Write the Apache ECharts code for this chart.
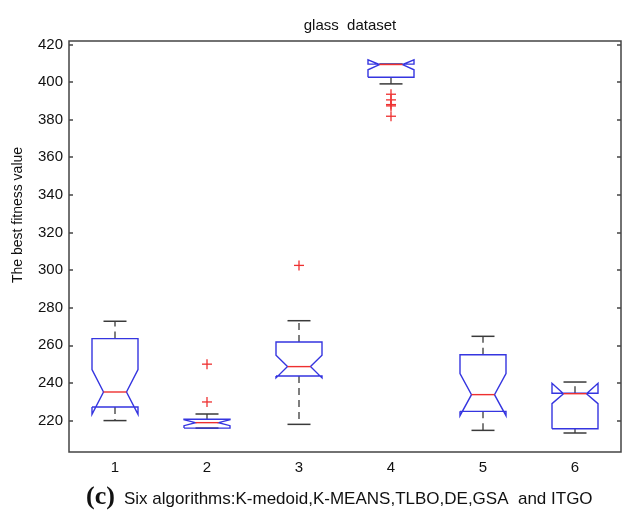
<!DOCTYPE html>
<html>
<head>
<meta charset="utf-8">
<script src="https://cdn.jsdelivr.net/npm/echarts@6/dist/echarts.min.js"></script>
<style>
html,body{margin:0;padding:0;background:#fff;}
#c{width:629px;height:519px;}
</style>
</head>
<body>
<div id="c"></div>
<script>
// ---- data ----
var categories = [1, 2, 3, 4, 5, 6];
var whiskerLow  = [220.0, 216.0, 218.0, 399.0, 214.8, 213.4];
var q1          = [227.2, 216.0, 243.7, 402.5, 224.9, 215.7];
var median      = [235.2, 218.9, 248.7, 409.3, 233.8, 234.3];
var q3          = [263.6, 220.7, 261.8, 409.5, 255.0, 234.5];
var whiskerHigh = [272.8, 223.5, 273.1, 409.5, 264.8, 240.5];
var notchLow    = [223.3, 217.3, 242.7, 406.5, 222.6, 229.0];
var notchHigh   = [247.1, 220.5, 254.7, 411.8, 245.0, 239.8];
var outlierCat  = [2, 2, 3, 4, 4, 4, 4, 4];
var outlierVal  = [250.0, 229.9, 302.5, 393.5, 390.5, 388.0, 387.3, 381.8];
var yTicks = [220, 240, 260, 280, 300, 320, 340, 360, 380, 400, 420];

var BLUE = '#3535e0', RED = '#ee3030', BLACK = '#3a3a3a';

var boxData = categories.map(function (c, i) {
  return [c, whiskerLow[i], q1[i], median[i], q3[i], whiskerHigh[i], notchLow[i], notchHigh[i]];
});
var outData = outlierCat.map(function (c, i) { return [c, outlierVal[i]]; });

function renderBox(params, api) {
  var cx = api.value(0);
  var wl = api.value(1), b1 = api.value(2), md = api.value(3), b3 = api.value(4),
      wh = api.value(5), nl = api.value(6), nh = api.value(7);
  function P(x, y) { return api.coord([x, y]); }
  var hw = 0.25, n = 0.125;
  var L = cx - hw, R = cx + hw;
  var pts = [P(L, b1), P(L, nl), P(L + n, md), P(L, nh), P(L, b3), P(R, b3), P(R, nh),
             P(R - n, md), P(R, nl), P(R, b1), P(L, b1)];
  var children = [];
  if (wh > b3) children.push({type: 'line', shape: {x1: P(cx, b3)[0], y1: P(cx, b3)[1], x2: P(cx, wh)[0], y2: P(cx, wh)[1]},
    style: {stroke: BLACK, lineWidth: 1.3, lineDash: [7, 5]}});
  if (wl < b1) children.push({type: 'line', shape: {x1: P(cx, b1)[0], y1: P(cx, b1)[1], x2: P(cx, wl)[0], y2: P(cx, wl)[1]},
    style: {stroke: BLACK, lineWidth: 1.3, lineDash: [7, 5]}});
  children.push({type: 'line', shape: {x1: P(cx - n, wh)[0], y1: P(cx - n, wh)[1], x2: P(cx + n, wh)[0], y2: P(cx + n, wh)[1]},
    style: {stroke: BLACK, lineWidth: 1.5}});
  children.push({type: 'line', shape: {x1: P(cx - n, wl)[0], y1: P(cx - n, wl)[1], x2: P(cx + n, wl)[0], y2: P(cx + n, wl)[1]},
    style: {stroke: BLACK, lineWidth: 1.5}});
  children.push({type: 'polyline', shape: {points: pts}, style: {stroke: BLUE, lineWidth: 1.4, fill: null}});
  children.push({type: 'line', shape: {x1: P(L + n, md)[0], y1: P(L + n, md)[1], x2: P(R - n, md)[0], y2: P(R - n, md)[1]},
    style: {stroke: RED, lineWidth: 1.4}});
  return {type: 'group', children: children};
}

function renderPlus(params, api) {
  var p = api.coord([api.value(0), api.value(1)]);
  var s = 5;
  return {type: 'group', children: [
    {type: 'line', shape: {x1: p[0] - s, y1: p[1], x2: p[0] + s, y2: p[1]}, style: {stroke: RED, lineWidth: 1.3}},
    {type: 'line', shape: {x1: p[0], y1: p[1] - s, x2: p[0], y2: p[1] + s}, style: {stroke: RED, lineWidth: 1.3}}
  ]};
}

var FONT = 'Liberation Sans, Arial, sans-serif';
var chart = echarts.init(document.getElementById('c'), null, {renderer: 'canvas'});
chart.setOption({
  animation: false,
  backgroundColor: '#fff',
  title: {text: 'glass  dataset', left: 345, textAlign: 'center', top: 13,
    textStyle: {fontFamily: FONT, fontSize: 15, fontWeight: 'normal', color: '#111'}},
  grid: {left: 69, right: 8, top: 41, bottom: 67, show: true, borderColor: '#444', borderWidth: 1.5, backgroundColor: '#fff'},
  xAxis: {type: 'value', min: 0.5, max: 6.5,
    axisLine: {show: false}, axisTick: {show: false}, splitLine: {show: false},
    axisLabel: {customValues: categories, margin: 8, fontFamily: FONT, fontSize: 15, color: '#111'}},
  yAxis: [
    {type: 'value', min: 203.3, max: 421.8, position: 'left',
      axisLine: {show: false}, splitLine: {show: false},
      axisTick: {show: true, inside: true, length: 4, customValues: yTicks, lineStyle: {color: '#444', width: 1.5}},
      axisLabel: {customValues: yTicks, margin: 6, fontFamily: FONT, fontSize: 15, color: '#111'}},
    {type: 'value', min: 203.3, max: 421.8, position: 'right',
      axisLine: {show: false}, splitLine: {show: false},
      axisTick: {show: true, inside: true, length: 4, customValues: yTicks, lineStyle: {color: '#444', width: 1.5}},
      axisLabel: {show: false}}
  ],
  graphic: [
    {type: 'text', x: 18, y: 215, rotation: Math.PI / 2,
      style: {text: 'The best fitness value', fontFamily: FONT, fontSize: 14, fill: '#111', align: 'center', verticalAlign: 'middle'}},
    {type: 'text', x: 86, y: 497,
      style: {text: '(c)', fontFamily: 'Liberation Serif, Times New Roman, serif', fontWeight: 'bold', fontSize: 26, fill: '#111', verticalAlign: 'middle'}},
    {type: 'text', x: 124, y: 499,
      style: {text: 'Six algorithms:K-medoid,K-MEANS,TLBO,DE,GSA  and ITGO', fontFamily: FONT, fontSize: 17, fill: '#111', verticalAlign: 'middle'}}
  ],
  series: [
    {type: 'custom', renderItem: renderBox, data: boxData, encode: {x: 0, y: [1, 2, 3, 4, 5, 6, 7]}, z: 3},
    {type: 'custom', renderItem: renderPlus, data: outData, encode: {x: 0, y: 1}, z: 4}
  ]
});
</script>
</body>
</html>
